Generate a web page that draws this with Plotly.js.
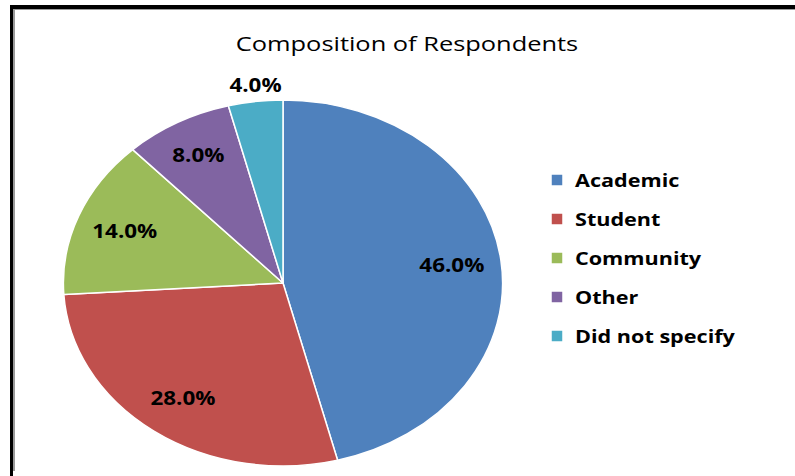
<!DOCTYPE html>
<html><head><meta charset="utf-8">
<script src="https://cdn.plot.ly/plotly-3.0.1.min.js"></script>
<style>
html,body{margin:0;padding:0;background:#fff;}
#wrap{position:relative;width:795px;height:476px;overflow:hidden;background:#fff;}
#chart{position:absolute;left:0;top:0;width:795px;height:476px;}
#frame{position:absolute;left:10px;top:5px;width:830px;height:467px;border-left:3px solid #000;border-top:4px solid #000;border-bottom:2px solid #8a8a8a;pointer-events:none;}
#frame2{position:absolute;left:13px;top:9px;width:830px;height:461px;border-left:2px solid #9a9a9a;border-top:1px solid #9a9a9a;pointer-events:none;}
</style></head>
<body><div id="wrap"><div id="chart"></div><div id="frame"></div><div id="frame2"></div></div>
<script>
const categories = ['Academic', 'Student', 'Community', 'Other', 'Did not specify'];
const shares = [46.0, 28.0, 14.0, 8.0, 4.0];
const sliceColors = ['#4F81BD', '#C0504D', '#9BBB59', '#8064A2', '#4BACC6'];
const labelPositions = ['inside', 'inside', 'inside', 'inside', 'outside'];
const chartTitle = 'Composition of Respondents';

const FONT = 'Open Sans, DejaVu Sans, sans-serif';
const pieDomain = {x: [100/795, 466/795], y: [10/476, 376/476]};
const labelFont = {family: FONT, size: 19, color: '#000', weight: 'bold'};

const data = [
  { // coloured slices + legend
    type: 'pie',
    labels: categories,
    values: shares,
    sort: false,
    direction: 'clockwise',
    rotation: 0,
    marker: {colors: sliceColors, line: {color: '#ffffff', width: 1.5}},
    textinfo: 'none',
    domain: pieDomain,
    hoverinfo: 'none'
  },
  { // percentage labels (placed by Plotly in the outer ring)
    type: 'pie',
    labels: categories,
    values: shares,
    sort: false,
    direction: 'clockwise',
    rotation: 0,
    hole: 0.55,
    showlegend: false,
    marker: {colors: categories.map(function () { return 'rgba(0,0,0,0)'; }), line: {width: 0}},
    texttemplate: '%{percent:.1%}',
    textposition: labelPositions,
    insidetextorientation: 'horizontal',
    textfont: labelFont,
    insidetextfont: labelFont,
    outsidetextfont: labelFont,
    domain: pieDomain,
    hoverinfo: 'none'
  }
];

const layout = {
  width: 795, height: 476,
  margin: {l: 0, r: 0, t: 0, b: 0},
  paper_bgcolor: 'rgba(0,0,0,0)',
  plot_bgcolor: 'rgba(0,0,0,0)',
  title: {text: chartTitle, x: 407/795, xanchor: 'center', y: 1 - 44/476, yanchor: 'middle', yref: 'container',
          font: {family: FONT, size: 20, color: '#000'}},
  showlegend: true,
  legend: {x: 537/795, xanchor: 'left', y: 1 - 165/476, yanchor: 'top',
           font: {family: FONT, size: 18, color: '#000', weight: 'bold'},
           bgcolor: 'rgba(0,0,0,0)'}
};

function scaleAbout(el, x0, s, dx, dy) {
  el.setAttribute('transform', 'translate(' + (x0 + (dx || 0)) + ',' + (dy || 0) + ') scale(' + s + ',1) translate(' + (-x0) + ',0)');
}

Plotly.newPlot('chart', data, layout, {staticPlot: true}).then(function (gd) {
  const cd0 = gd.calcdata[0][0];
  const cx = cd0.cx;
  const sx = 1.2;
  gd.querySelectorAll('.pielayer .slice path.surface').forEach(function (p) {
    scaleAbout(p, cx, sx, 0, 0);
    p.style.vectorEffect = 'non-scaling-stroke';
  });
  const labelTrace = gd.calcdata[1];
  gd.querySelectorAll('.pielayer .trace')[1].querySelectorAll('.slice').forEach(function (sl, i) {
    const g = sl.querySelector('g.slicetext');
    if (!g) return;
    const b = g.getBBox();
    const mx = b.x + b.width / 2;
    if (labelPositions[i] === 'outside') {
      // centre the outside label over the slice's mid-angle, as the reference does
      const ax = cx + labelTrace[i].pxmid[0] * sx;
      scaleAbout(g, mx, 1.18, ax - mx, -4);
    } else {
      scaleAbout(g, mx, 1.18, (mx - cx) * (sx - 1), 0);
    }
  });
  const t = gd.querySelector('.gtitle');
  if (t) { const b = t.getBBox(); scaleAbout(t, b.x + b.width / 2, 1.27, 0, 0); }
  gd.querySelectorAll('.legend [clip-path]').forEach(function (e) { e.removeAttribute('clip-path'); });
  gd.querySelectorAll('.legend .traces').forEach(function (it, i) {
    it.setAttribute('transform', 'translate(0,' + (15 + i * 39) + ')');
    const tx = it.querySelector('text.legendtext');
    if (tx) { const b = tx.getBBox(); scaleAbout(tx, b.x, 1.2, -2, 0); }
  });
});
</script>
</body></html>
